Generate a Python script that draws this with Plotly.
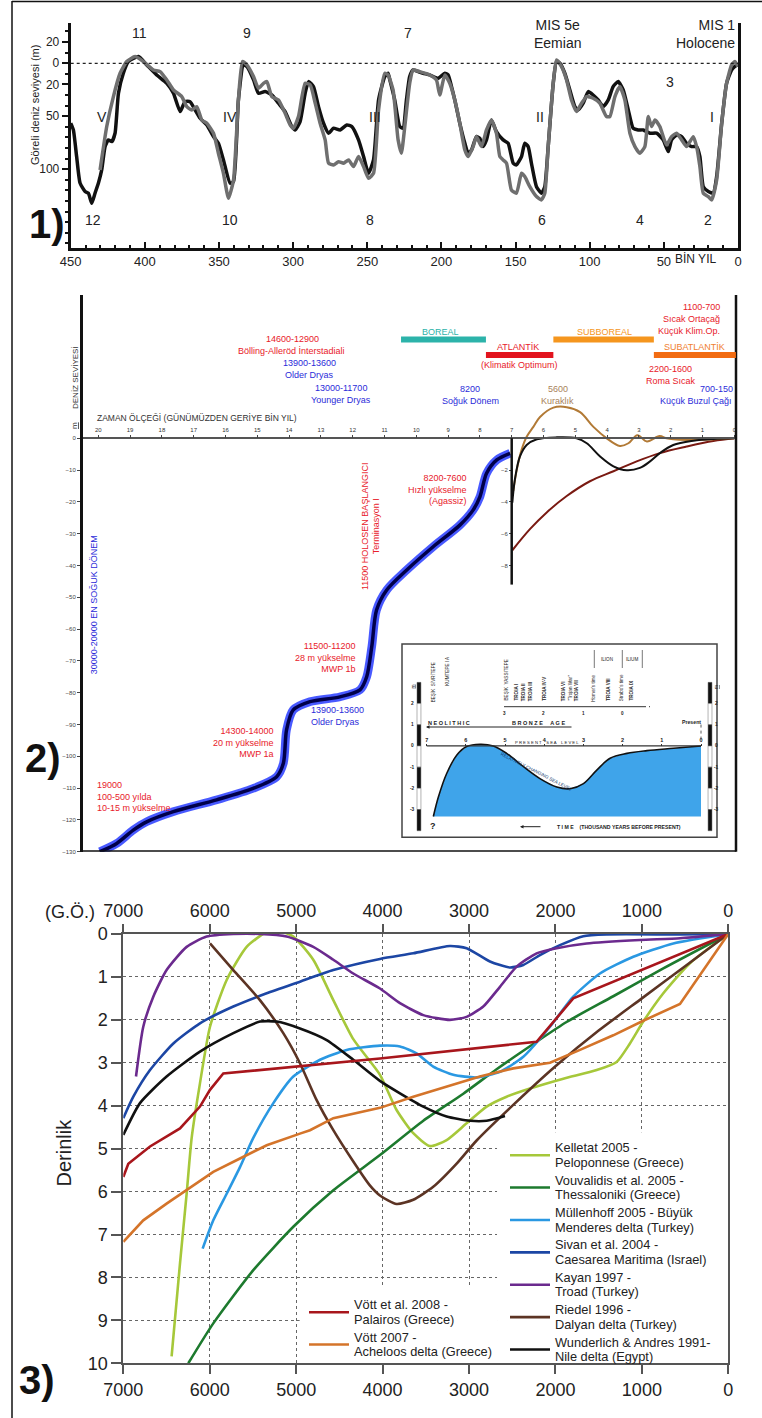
import plotly.graph_objects as go

FONT = "Liberation Sans, Arial"
W, H = 762, 1418
def fx(px): return px / W
def fy(py): return 1 - py / H

# ---------------- Panel 1 data (ka BP, relative sea level m) ----------------
p1_black_ka = [450, 448.2, 446, 443.7, 440.3, 438.1, 435.8, 433.6, 431.3, 429.1, 426.8, 424.6, 422.3, 420.1, 417.8,
               414.5, 411.1, 404.3, 398.7, 392, 385.2, 380.7, 376.2, 372.9, 369.5, 366.1, 362.7, 358.2, 353.7, 350.4,
               347, 342.5, 340.2, 336.9, 333.5, 331.2, 326.7, 323.4, 318.9, 314.4, 309.9, 305.4, 300.9, 298.6, 295.3,
               291.9, 289.6, 286.3, 282.9, 279.5, 276.1, 272.8, 268.3, 263.8, 260.4, 255.9, 252.5, 249.2, 245.8, 242.4,
               238.2, 236, 234.8, 231.5, 228.1, 225.9, 223.6, 221.4, 219.1, 215.7, 212.4, 207.9, 202.2, 197.7, 195.5,
               193.2, 191, 187.6, 184.2, 182, 179.7, 176.4, 174.1, 171.9, 169.6, 166.3, 162.9, 158.4, 155, 151.6,
               149.4, 146, 143.8, 141.5, 139.3, 135.9, 132.5, 130.3, 128, 124.6, 122.4, 120.1, 116.8, 113.4, 110,
               107.8, 104.4, 101, 97.7, 94.3, 90.9, 87.5, 84.2, 80.8, 77.4, 74, 70.7, 67.3, 63.9, 59.4, 54.9, 50.4,
               47, 44.8, 41.4, 38, 34.7, 31.3, 27.9, 25.7, 23.4, 20, 16.7, 14.4, 11, 7.7, 4.3, 0.9, 0]
p1_black_m = [-56.6, -62.9, -88, -113, -121, -122.6, -132, -122.6, -113, -100.6, -78.6, -72.3, -73.9, -66, -28.3,
              -9.4, 1.6, 6.3, -1.6, -11, -18.9, -28.3, -45.6, -36.2, -36.2, -44, -51.9, -58.2, -69.2, -75.5, -91.2,
              -113.2, -111.6, -34.6, -1.6, -3.1, -15.7, -28.3, -26.7, -29.9, -37.7, -45.6, -59.7, -62.9, -55, -28.3,
              -17.3, -22, -40.9, -56.6, -66, -61.3, -62.9, -58.2, -59.7, -72.3, -88, -103.8, -91.2, -34.6,
              -12.6, -9.4, -15.7, -34.6, -59.7, -61.3, -34.6, -12.6, -6.3, -7.9, -9.4, -11, -14.2, -9.4, -11, -22,
              -34.6, -56.6, -75.5, -84.9, -81.8, -69.2, -70.8, -78.6, -72.3, -53.5, -64.5, -72.3, -75.5, -94.3,
              -95.9, -88, -75.5, -78.6, -94.3, -116.4, -122.6, -116.4, -78.6, -18.9, 1.6, 0, -9.4, -25.2, -40.9,
              -44, -37.7, -26.7, -29.9, -34.6, -40.9, -34.6, -22, -17.3, -25.2, -44, -61.3, -62.9, -62.9, -66, -66,
              -72.3, -83.3, -72.3, -67.6, -69.2, -75.5, -78.6, -78.6, -88, -116.4, -121, -122.6, -106.9, -56.6,
              -18.9, -6.3, -1.6, -3.1]
p1_gray_ka = [430.2, 425.7, 421.2, 416.7, 412.2, 406.6, 401, 394.2, 389.7, 385.2, 380.7, 375.1, 371.7, 368.4, 365,
              361.6, 358.2, 353.7, 350.4, 347, 343.6, 340.2, 336.9, 334.2, 331.2, 326.7, 323.4, 320, 317.7, 314.4,
              309.9, 305.4, 302, 299.8, 296.4, 291.9, 288.5, 285.1, 281.8, 278.4, 276.1, 272.8, 269.4, 266, 262.6,
              259.3, 255.9, 252.5, 249.2, 245.8, 242.4,
              238.2, 236, 232.6, 229.2, 227, 224.7, 221.4, 219.1, 214.6, 207.9, 203.4, 201.1, 197.7, 194.4, 191,
              187.6, 184.2, 182, 178.6, 176.4, 173, 169.6, 166.3, 162.9, 160.6, 158.4, 156.1, 152.8, 149.4, 146,
              143.8, 140.4, 135.9, 132.5, 130.3, 128, 124.6, 122.4, 119, 115.6, 112.3, 108.9, 105.5, 102.1, 97.7,
              93.2, 88.7, 86.4, 83, 79.7, 76.3, 72.9, 69.5, 66.2, 62.8, 60.5, 58.3, 56, 52.7, 48.2, 44.8, 41.4, 38,
              34.7, 30.2, 27.9, 25.7, 23.4, 20, 17.8, 14.4, 11, 7.7, 4.3, 2.1, 0]
p1_gray_m = [-100.6, -59.7, -31.4, -9.4, 1.6, 6.3, 1.6, -6.3, -7.9, -15.7, -25.2, -31.4, -40.9, -44, -40.9, -53.5,
             -56.6, -66, -84.9, -103.8, -127.4, -110, -34.6, 1.6, -1.6, -12.6, -23.6, -18.9, -17.3, -31.4, -34.6,
             -47.2, -58.2, -61.3, -50.3, -18.9, -20.4, -37.7, -56.6, -72.3, -94.3, -95.9, -92.8, -94.3, -91.2,
             -97.5, -88, -97.5, -108.5, -103.8, -44,
             -9.4, -11, -25.2, -72.3, -84.9, -59.7, -18.9, -6.3, -7.9, -11, -15.7, -29.9, -11, -18.9, -34.6, -56.6,
             -81.8, -88, -78.6, -69.2, -78.6, -62.9, -53.5, -66, -88, -91.2, -94.3, -119.5, -122.6, -103.8, -106.9,
             -116.4, -125.8, -128.9, -122.6, -78.6, -18.9, 3.1, -3.1, -15.7, -34.6, -45.6, -37.7, -31.4, -33,
             -37.7, -50.3, -50.3, -31.4, -22, -34.6, -66, -78.6, -84.9, -78.6, -50.3, -59.7, -53.5, -59.7, -77,
             -69.2, -66, -72.3, -78.6, -69.2, -78.6, -97.5, -122.6, -125.8, -128.9, -110, -56.6, -18.9, -1.6, 1.6,
             -3.1]
p1_x_ticks = [450, 400, 350, 300, 250, 200, 150, 100, 50, 0]
p1_y_ticks = [20, 0, -20, -50, -100]
p1_y_ticktext = ["20", "0", "20", "50", "100"]

# ---------------- Panel 2 data (kyr BP, sea level m) ----------------
p2_blue_kyr = [19.95, 19.42, 18.9, 18.48, 17.64, 16.28, 15.13, 14.39, 14.18, 14.08, 13.87, 13.34, 12.4, 11.77,
               11.56, 11.4, 11.25, 10.93, 10.3, 9.47, 8.63, 8.21, 8.0, 7.79, 7.47, 7.05]
p2_blue_m = [-130, -127.4, -123.2, -120.6, -117.4, -113.7, -110.1, -106.4, -102.2, -91.7, -85.4, -82.8, -81.3,
             -79.1, -75, -65.5, -54, -47.7, -41.4, -34.1, -27.3, -22.5, -18.4, -11, -6.8, -4.7]
p2_black_kyr = [6.98, 6.9, 6.74, 6.53, 6.21, 5.58, 4.96, 4.64, 4.22, 3.8, 3.38, 2.97, 2.65, 2.34, 1.92, 1.29, 0.66, 0]
p2_black_m = [-4.04, -2.59, -1.14, -0.42, -0.06, 0.06, 0, -0.31, -1.14, -1.76, -2.01, -1.86, -1.45, -0.93, -0.42,
              -0.15, -0.04, 0]
p2_red_kyr = [6.98, 6.42, 5.9, 5.27, 4.54, 3.8, 3.07, 2.34, 1.5, 0.66, 0]
p2_red_m = [-7.04, -5.7, -4.66, -3.63, -2.7, -2.07, -1.45, -0.93, -0.52, -0.17, 0]
p2_brown_kyr = [6.95, 6.84, 6.69, 6.53, 6.32, 6.11, 5.69, 5.27, 4.85, 4.43, 4.01, 3.6, 3.33, 3.05, 2.75, 2.35, 2.13,
                1.92, 1.5, 0.66, 0]
p2_brown_m = [-3.3, -1.97, -0.73, 0.1, 0.72, 1.34, 1.93, 1.96, 1.65, 0.72, 0, -0.48, -0.31, 0.2, -0.2, 0.14, 0,
              -0.06, -0.1, -0.06, 0]
p2_x_ticks = list(range(0, 21))
p2_y_ticks = [0, -10, -20, -30, -40, -50, -60, -70, -80, -90, -100, -110, -120, -130]
p2_y3_ticks = [-2, -4, -6, -8]
period_names = ["BOREAL", "ATLANTİK", "SUBBOREAL", "SUBATLANTİK"]
period_start = [10.48, 7.81, 5.69, 2.53]
period_end = [7.81, 5.69, 2.53, -0.05]
period_level = [31.1, 26.2, 31.1, 26.2]
period_colors = ["#2cb3aa", "#e2141e", "#f5961e", "#f26c12"]

# inset (Troia) data
troia_kyr = [6.83, 6.7, 6.49, 6.23, 5.98, 5.64, 5.3, 4.96, 4.53, 4.11, 3.68, 3.34, 3.0, 2.66, 2.32, 1.89, 1.38, 0.7, 0]
troia_m = [-3.33, -2.4, -1.3, -0.43, -0.03, 0.08, 0, -0.35, -0.98, -1.54, -1.94, -2.02, -1.78, -1.14, -0.58, -0.35,
           -0.22, -0.11, 0]
inset_x_ticks = [7, 6, 5, 4, 3, 2, 1, 0]
inset_y_ticks = [2, 1, 0, -1, -2, -3]

# ---------------- Panel 3 data (years BP, depth m) ----------------
vott08_yr = [7000, 6942, 6691, 6344, 6113, 5997, 5843, 4030, 2218, 1794, 0]
vott08_d = [5.66, 5.35, 4.95, 4.53, 4.02, 3.63, 3.25, 2.9, 2.51, 1.5, 0]
vott07_yr = [7000, 6769, 6499, 6267, 5959, 5650, 5341, 4956, 4840, 4570, 4030, 3645, 3259, 2874, 2488, 2063, 1716,
             1331, 984, 559, 0]
vott07_d = [7.17, 6.67, 6.28, 5.97, 5.54, 5.23, 4.92, 4.65, 4.57, 4.29, 4.05, 3.79, 3.56, 3.32, 3.13, 3.0, 2.7,
            2.36, 2.02, 1.63, 0]
kell_yr = [6441, 6344, 6267, 6209, 6113, 5997, 5804, 5573, 5341, 5226, 5033, 4802, 4570, 4339, 4030, 3838, 3645,
           3452, 3259, 3028, 2796, 2565, 2295, 1909, 1523, 1292, 1138, 984, 752, 444, 0]
kell_d = [9.84, 7.67, 6.05, 4.75, 3.48, 2.16, 1.07, 0.3, -0.05, -0.09, 0.06, 0.6, 1.54, 2.45, 3.28, 4.1, 4.64, 4.94,
          4.8, 4.41, 4.02, 3.79, 3.6, 3.37, 3.17, 2.98, 2.55, 2.04, 1.38, 0.68, 0]
vouv_yr = [6248, 5959, 5496, 5033, 4570, 4030, 3529, 3066, 2681, 2218, 1871, 1331, 752, 0]
vouv_d = [10, 9.07, 7.83, 6.82, 5.97, 5.15, 4.35, 3.72, 3.15, 2.51, 2.05, 1.45, 0.8, 0]
mull_yr = [6082, 5959, 5804, 5650, 5496, 5264, 5033, 4724, 4416, 4030, 3799, 3607, 3414, 3182, 2912, 2642, 2372,
           2063, 1794, 1485, 1099, 636, 0]
mull_d = [7.33, 6.67, 6.05, 5.43, 4.75, 3.94, 3.32, 2.93, 2.7, 2.6, 2.62, 2.78, 3.09, 3.28, 3.34, 3.21, 2.86, 2.16,
          1.46, 0.92, 0.53, 0.22, 0]
sivan_yr = [7000, 6884, 6691, 6421, 6113, 5727, 5341, 4956, 4570, 4030, 3645, 3221, 3028, 2758, 2526, 2372, 2179,
            1948, 1678, 1408, 559, 0]
sivan_d = [4.29, 3.79, 3.17, 2.55, 2.08, 1.69, 1.38, 1.11, 0.84, 0.58, 0.45, 0.28, 0.33, 0.64, 0.78, 0.72, 0.49,
           0.26, 0.05, 0.01, 0.01, 0]
kayan_yr = [6853, 6769, 6653, 6499, 6267, 6036, 5727, 5419, 5110, 4802, 4570, 4339, 4030, 3799, 3529, 3221, 3028,
            2835, 2642, 2449, 2218, 1986, 1639, 1022, 559, 0]
kayan_d = [3.32, 2.16, 1.46, 0.84, 0.3, 0.06, 0.0, 0.0, 0.06, 0.3, 0.6, 0.92, 1.27, 1.61, 1.89, 2.0, 1.93, 1.69,
           1.23, 0.76, 0.45, 0.33, 0.22, 0.14, 0.1, 0]
riedel_yr = [5997, 5727, 5419, 5149, 4956, 4763, 4570, 4339, 4150, 4031, 3838, 3645, 3414, 3143, 2912, 2488, 2000,
             1500, 1000, 500, 0]
riedel_d = [0.22, 0.84, 1.54, 2.31, 3.01, 3.87, 4.57, 5.3, 5.85, 6.09, 6.29, 6.19, 5.89, 5.35, 4.81, 3.98, 3.08,
            2.25, 1.5, 0.75, 0]
wund_yr = [7000, 6807, 6499, 6113, 5727, 5419, 5226, 4956, 4647, 4339, 4031, 3799, 3529, 3259, 2989, 2796, 2584]
wund_d = [4.68, 3.94, 3.32, 2.74, 2.31, 2.04, 2.04, 2.2, 2.47, 2.93, 3.42, 3.71, 4.02, 4.25, 4.35, 4.35, 4.24]
p3_x_ticks = [7000, 6000, 5000, 4000, 3000, 2000, 1000, 0]
p3_y_ticks = list(range(0, 11))

fig = go.Figure()

# ---- Panel 1 traces ----
fig.add_trace(go.Scatter(x=p1_black_ka, y=p1_black_m, mode="lines", xaxis="x", yaxis="y",
                         line=dict(color="#111111", width=3.5, shape="spline", smoothing=0.5),
                         showlegend=False, hoverinfo="skip"))
fig.add_trace(go.Scatter(x=p1_gray_ka, y=p1_gray_m, mode="lines", xaxis="x", yaxis="y",
                         line=dict(color="#6f6f6f", width=3.5, shape="spline", smoothing=0.5),
                         showlegend=False, hoverinfo="skip"))

# ---- Panel 2 traces ----
fig.add_trace(go.Scatter(x=p2_blue_kyr, y=p2_blue_m, mode="lines", xaxis="x2", yaxis="y2",
                         line=dict(color="rgba(40,60,255,0.85)", width=8.5, shape="spline", smoothing=0.8),
                         showlegend=False, hoverinfo="skip"))
fig.add_trace(go.Scatter(x=p2_blue_kyr, y=p2_blue_m, mode="lines", xaxis="x2", yaxis="y2",
                         line=dict(color="#00004a", width=3.5, shape="spline", smoothing=0.8),
                         showlegend=False, hoverinfo="skip"))
fig.add_trace(go.Scatter(x=p2_red_kyr, y=p2_red_m, mode="lines", xaxis="x2", yaxis="y3",
                         line=dict(color="#7a1a12", width=2, shape="spline"), showlegend=False, hoverinfo="skip"))
fig.add_trace(go.Scatter(x=p2_brown_kyr, y=p2_brown_m, mode="lines", xaxis="x2", yaxis="y3",
                         line=dict(color="#b27a36", width=2, shape="spline"), showlegend=False, hoverinfo="skip"))
fig.add_trace(go.Scatter(x=p2_black_kyr, y=p2_black_m, mode="lines", xaxis="x2", yaxis="y3",
                         line=dict(color="#111111", width=2, shape="spline"), showlegend=False, hoverinfo="skip"))

# inset fill + curve
fig.add_trace(go.Scatter(x=troia_kyr + [0, troia_kyr[0]], y=troia_m + [troia_m[0], troia_m[0]], mode="lines",
                         xaxis="x5", yaxis="y5", fill="toself", fillcolor="#3fa4ea", line=dict(width=0),
                         showlegend=False, hoverinfo="skip"))
fig.add_trace(go.Scatter(x=troia_kyr, y=troia_m, mode="lines", xaxis="x5", yaxis="y5",
                         line=dict(color="#111111", width=1.6, shape="spline"), showlegend=False, hoverinfo="skip"))

# ---- Panel 3 traces ----
def lg_name(l1, l2):
    sp = '<span style="font-size:12.8px">%s</span>'
    return (sp % l1) + "<br>" + (sp % l2)

p3_series = [
    (lg_name("Kelletat 2005 -", "Peloponnese (Greece)"), kell_yr, kell_d, "#a6c83a", "legend", "spline"),
    (lg_name("Vouvalidis et al. 2005 -", "Thessaloniki (Greece)"), vouv_yr, vouv_d, "#1d7a2e", "legend", "spline"),
    (lg_name("Müllenhoff 2005 - Büyük", "Menderes delta (Turkey)"), mull_yr, mull_d, "#2a98e2", "legend", "spline"),
    (lg_name("Sivan et al. 2004 -", "Caesarea Maritima (Israel)"), sivan_yr, sivan_d, "#1c46a4", "legend", "spline"),
    (lg_name("Kayan 1997 -", "Troad (Turkey)"), kayan_yr, kayan_d, "#6b2a8e", "legend", "spline"),
    (lg_name("Riedel 1996 -", "Dalyan delta (Turkey)"), riedel_yr, riedel_d, "#5c3424", "legend", "spline"),
    (lg_name("Wunderlich & Andres 1991-", "Nile delta (Egypt)"), wund_yr, wund_d, "#111111", "legend", "spline"),
    (lg_name("Vött et al. 2008 -", "Palairos (Greece)"), vott08_yr, vott08_d, "#a8161c", "legend2", "linear"),
    (lg_name("Vött 2007 -", "Acheloos delta (Greece)"), vott07_yr, vott07_d, "#d4742a", "legend2", "linear"),
]
for name, xs, ys, col, lg, shp in p3_series:
    fig.add_trace(go.Scatter(x=xs, y=ys, mode="lines", name=name, xaxis="x4", yaxis="y4", legend=lg,
                             line=dict(color=col, width=2.6, shape=shp, smoothing=0.6), hoverinfo="skip"))
fig.add_trace(go.Scatter(x=[7000, 0], y=[None, None], xaxis="x6", yaxis="y4", mode="lines",
                         showlegend=False, hoverinfo="skip"))

# ---------------- annotations ----------------
ann = []
def txt(px, py, s, size=9, color="#222", xa="center", ya="middle", angle=0, align="center"):
    ann.append(dict(x=fx(px), y=fy(py), xref="paper", yref="paper", text=s, showarrow=False,
                    font=dict(size=size, color=color, family=FONT), xanchor=xa, yanchor=ya,
                    textangle=angle, align=align, borderpad=0))

# Panel 1 labels
for s, px, py in [("11", 139.3, 33), ("9", 246.7, 33), ("7", 408.3, 33), ("3", 670, 81.7),
                  ("V", 101.7, 116.7), ("IV", 230, 116.7), ("III", 375, 116.7), ("II", 540, 116.7),
                  ("I", 711.7, 116.7), ("12", 93.3, 220), ("10", 230, 220), ("8", 370, 220),
                  ("6", 541.7, 220), ("4", 640, 220), ("2", 708.3, 220)]:
    txt(px, py, s, size=14, color="#222")
txt(557, 33.5, "MIS 5e<br>Eemian", size=14, color="#222")
txt(736, 33.5, "MIS 1<br>Holocene", size=14, color="#222", xa="right", align="right")
txt(695, 258.5, "BİN YIL", size=12, color="#222")
txt(35, 105, "Göreli deniz seviyesi (m)", size=11, color="#222", angle=-90)
txt(47, 224, "<b>1)</b>", size=40, color="#111")

# Panel 2 labels
RED, BLUE, TEAL, ORG, BRN = "#e8202a", "#2b2bd9", "#2cb3aa", "#f5961e", "#a8825a"
txt(292.5, 339, "14600-12900", 9, RED)
txt(291.7, 351, "Bölling-Alleröd İnterstadiali", 9, RED)
txt(309.5, 362.7, "13900-13600", 9, BLUE)
txt(309.5, 374.7, "Older Dryas", 9, BLUE)
txt(340.8, 387.7, "13000-11700", 9, BLUE)
txt(340.8, 399.5, "Younger Dryas", 9, BLUE)
txt(440.8, 331.7, "BOREAL", 9, TEAL)
txt(517.5, 346.7, "ATLANTİK", 9, RED)
txt(519.7, 365, "(Klimatik Optimum)", 9, RED)
txt(604, 331.7, "SUBBOREAL", 9, ORG)
txt(694.7, 347.3, "SUBATLANTİK", 9, "#f08030")
txt(701.7, 306.7, "1100-700", 9, RED)
txt(691.7, 319, "Sıcak Ortaçağ", 9, RED)
txt(688.8, 331, "Küçük Klim.Op.", 9, RED)
txt(670.8, 369.3, "2200-1600", 9, RED)
txt(671, 380.7, "Roma Sıcak", 9, RED)
txt(716.7, 389, "700-150", 9, BLUE)
txt(696, 400.7, "Küçük Buzul Çağı", 9, BLUE)
txt(469.7, 389, "8200", 9, BLUE)
txt(470, 400.7, "Soğuk Dönem", 9, BLUE)
txt(557.5, 389, "5600", 9, BRN)
txt(557.5, 400.7, "Kuraklık", 9, BRN)
txt(96, 418, "ZAMAN ÖLÇEĞİ (GÜNÜMÜZDEN GERİYE BİN YIL)", 8.5, "#333", xa="left")
txt(75, 378, "DENİZ SEVİYESİ", 8, "#333", angle=-90)
txt(75, 426, "<u>m</u>", 8, "#333", angle=-90)
txt(94.3, 605, "30000-20000 EN SOĞUK DÖNEM", 9, BLUE, angle=-90)
txt(364.3, 526.7, "11500 HOLOSEN BAŞLANGICI", 9, RED, angle=-90)
txt(375.5, 526.7, "Terminasyon I", 9, RED, angle=-90)
txt(468.3, 489, "8200-7600<br>Hızlı yükselme<br>(Agassiz)", 9, RED, xa="right", align="right")
txt(357.3, 657, "11500-11200<br>28 m yükselme<br>MWP 1b", 9, RED, xa="right", align="right")
txt(310, 716, "13900-13600<br>Older Dryas", 9, BLUE, xa="left", align="left")
txt(275, 742, "14300-14000<br>20 m yükselme<br>MWP 1a", 9, RED, xa="right", align="right")
txt(96, 796, "19000<br>100-500 yılda<br>10-15 m yükselme", 9, RED, xa="left", align="left")
txt(42.7, 758, "<b>2)</b>", 40, "#111")

# inset texts
IC = "#222"
txt(427, 723.3, "<b>N E O L I T H I C</b>", 5.5, IC, xa="left")
txt(538, 723.3, "<b>B R O N Z E &nbsp;&nbsp;&nbsp; A G E</b>", 5.5, IC)
txt(547, 742.5, "P R E S E N T &nbsp;&nbsp; S E A &nbsp;&nbsp; L E V E L", 4.2, IC)
txt(536, 771, "RELATIVELY CHANGING SEA LEVEL", 4.6, "#123a70", angle=27)
txt(691.7, 721.7, "<b>Present</b>", 5.2, IC)
txt(432.7, 826, "<b>?</b>", 9, IC)
txt(556, 826.7, "<b>T I M E &nbsp;&nbsp; (THOUSAND YEARS BEFORE PRESENT)</b>", 5.2, IC, xa="left")
for s, px, pb in [("BEŞİK &nbsp;SİVRİTEPE", 433.3, 703), ("KUMTEPE I A", 446.7, 687),
                  ("BEŞİK &nbsp;YASSITEPE", 505, 702), ("<b>TROIA I</b>", 516, 702),
                  ("<b>TROIA II</b>", 523.3, 702), ("<b>TROIA III</b>", 530.7, 702),
                  ("<b>TROIA IV-V</b>", 544.3, 702), ("<b>TROIA VI</b>", 563.3, 702),
                  ("\"Trojan War\"", 570, 702), ("<b>TROIA VII</b>", 576.7, 702),
                  ("Homer's time", 593.3, 703), ("<b>TROIA VIII</b>", 607.7, 702),
                  ("Strabo's time", 621.7, 702), ("<b>TROIA IX</b>", 631, 702)]:
    txt(px, pb, s, 4.6, IC, ya="bottom", angle=-90)
txt(607.3, 659.3, "ILION", 4.6, IC)
txt(632.3, 659.3, "ILIUM", 4.6, IC)
for s, px in [("3", 504), ("2", 543), ("1", 583.3), ("0", 622.7)]:
    txt(px, 713.5, "<b>" + s + "</b>", 4.6, IC)
for v in inset_y_ticks:
    ann.append(dict(x=fx(412.5), y=v, xref="paper", yref="y5", text="<b>%d</b>" % v, showarrow=False,
                    font=dict(size=4.8, color=IC, family=FONT), xanchor="center", yanchor="middle"))
    ann.append(dict(x=fx(716), y=v, xref="paper", yref="y5", text="<b>%d</b>" % v, showarrow=False,
                    font=dict(size=4.8, color=IC, family=FONT), xanchor="center", yanchor="middle"))
txt(412.5, 687, "<u>m</u>", 4.8, IC, angle=-90)
txt(716, 687, "<u>m</u>", 4.8, IC, angle=-90)
ann.append(dict(x=fx(426), y=fy(727), xref="paper", yref="paper", ax=147, ay=0, text="", showarrow=True,
                arrowhead=2, arrowsize=0.7, arrowwidth=1, arrowcolor="#222"))
ann.append(dict(x=fx(520), y=fy(826.7), xref="paper", yref="paper", ax=22, ay=0, text="", showarrow=True,
                arrowhead=2, arrowsize=0.7, arrowwidth=1, arrowcolor="#222"))

# Panel 3 labels
txt(70, 911.7, "(G.Ö.)", 18, "#222")
txt(63.5, 1153, "Derinlik", 20, "#222", angle=-90)
txt(37, 1380, "<b>3)</b>", 40, "#111")

# ---------------- shapes ----------------
shapes = []
shapes.append(dict(type="line", xref="paper", yref="paper", x0=fx(12), x1=fx(12), y0=fy(1), y1=fy(1418),
                   line=dict(color="#111", width=1.5)))
shapes.append(dict(type="line", xref="paper", yref="paper", x0=fx(12), x1=1, y0=fy(1.5), y1=fy(1.5),
                   line=dict(color="#111", width=1.5)))
shapes.append(dict(type="line", xref="x", yref="y", x0=450, x1=0, y0=0, y1=0,
                   line=dict(color="#222", width=1.3, dash="dot")))
shapes.append(dict(type="line", xref="x2 domain", yref="y2", x0=0, x1=1, y0=-130, y1=-130,
                   line=dict(color="#111", width=3)))
shapes.append(dict(type="line", xref="x2 domain", yref="y2 domain", x0=1, x1=1, y0=0, y1=1,
                   line=dict(color="#111", width=2.5)))
shapes.append(dict(type="line", xref="x2", yref="y3", x0=7, x1=7, y0=0, y1=-9.2,
                   line=dict(color="#111", width=2.5)))
for nm, s0, s1, lv, col in zip(period_names, period_start, period_end, period_level, period_colors):
    shapes.append(dict(type="line", xref="x2", yref="y2", x0=s0, x1=s1, y0=lv, y1=lv,
                       line=dict(color=col, width=6)))
shapes.append(dict(type="rect", xref="x5 domain", yref="y5 domain", x0=0, x1=1, y0=0, y1=1,
                   line=dict(color="#444", width=1.5), layer="below"))
shapes.append(dict(type="line", xref="x5", yref="y5", x0=7, x1=0, y0=0, y1=0,
                   line=dict(color="#333", width=1.2)))
shapes.append(dict(type="line", xref="x5", yref="y5", x0=0, x1=0, y0=0.3, y1=1.15,
                   line=dict(color="#333", width=0.8, dash="dot")))
shapes.append(dict(type="line", xref="paper", yref="paper", x0=fx(504), x1=fx(643), y0=fy(706.7), y1=fy(706.7),
                   line=dict(color="#333", width=1)))
shapes.append(dict(type="line", xref="paper", yref="paper", x0=fx(643), x1=fx(650), y0=fy(706.7), y1=fy(706.7),
                   line=dict(color="#333", width=1, dash="dot")))
for sx in [594.3, 622.3, 642.3]:
    shapes.append(dict(type="line", xref="paper", yref="paper", x0=fx(sx), x1=fx(sx), y0=fy(650), y1=fy(668),
                       line=dict(color="#555", width=0.8)))
for bx in [7.197, -0.23]:
    for i, top in enumerate([3, 2, 1, 0, -1, -2, -3]):
        shapes.append(dict(type="rect", xref="x5", yref="y5", x0=bx - 0.05, x1=bx + 0.05, y0=top, y1=top - 1,
                           fillcolor="#111" if i % 2 == 0 else "#ffffff", line=dict(color="#666", width=0.5)))
shapes.append(dict(type="rect", xref="x4", yref="y4", x0=2676, x1=0, y0=4.62, y1=10, fillcolor="white",
                   line=dict(width=0), layer="between"))
shapes.append(dict(type="rect", xref="x4", yref="y4", x0=4960, x1=2676, y0=8.22, y1=10, fillcolor="white",
                   line=dict(width=0), layer="between"))

AX = dict(showgrid=False, zeroline=False, automargin=False)
fig.update_layout(
    width=W, height=H, margin=dict(l=0, r=0, t=0, b=0, autoexpand=False), paper_bgcolor="white",
    plot_bgcolor="rgba(0,0,0,0)", font=dict(family=FONT, color="#222"),
    xaxis=dict(domain=[fx(70.7), fx(738)], range=[450, 0], anchor="y", tickvals=p1_x_ticks,
               ticks="inside", ticklen=6, tickwidth=2, tickcolor="#111", showline=True, linecolor="#111",
               linewidth=3, tickfont=dict(size=13, color="#222"),
               minor=dict(dtick=10, ticklen=3, tickwidth=1.5, ticks="inside", tickcolor="#111"), **AX),
    yaxis=dict(domain=[fy(247.7), fy(23)], range=[-174, 38], anchor="x", tickvals=p1_y_ticks,
               ticktext=p1_y_ticktext, ticks="outside", ticklen=6, tickwidth=2, tickcolor="#111",
               showline=True, linecolor="#111", linewidth=3, mirror=True, tickfont=dict(size=12, color="#222"),
               minor=dict(dtick=10, tick0=0, ticklen=3, tickwidth=1.5, ticks="outside", tickcolor="#111"), **AX),
    xaxis2=dict(domain=[fx(82.7), fx(736)], range=[20.49, -0.053], anchor="free", position=fy(438.3),
                side="top", tickvals=p2_x_ticks, ticks="outside", ticklen=3, tickwidth=1, tickcolor="#444",
                tickfont=dict(size=6, color="#333"), showline=True, linecolor="#555", linewidth=1.5, **AX),
    yaxis2=dict(domain=[fy(851.7), fy(295)], range=[-130, 45.07], anchor="x2", tickvals=p2_y_ticks,
                ticks="outside", ticklen=3, tickwidth=1, tickcolor="#444", tickfont=dict(size=6, color="#444"),
                showline=True, linecolor="#111", linewidth=2.5, **AX),
    yaxis3=dict(overlaying="y2", anchor="free", position=fx(512), side="left", range=[-26, 9.014],
                tickvals=p2_y3_ticks, ticks="outside", ticklen=3, tickwidth=1, tickcolor="#444",
                tickfont=dict(size=6, color="#444"), showline=False, **AX),
    xaxis5=dict(domain=[fx(402), fx(717)], range=[7.63, -0.408], anchor="free", position=fy(746), side="top",
                tickvals=inset_x_ticks, ticktext=["<b>%d</b>" % v for v in inset_x_ticks], ticks="outside",
                ticklen=2, tickwidth=1, tickcolor="#333", tickfont=dict(size=5.5, color="#222"),
                showline=False, **AX),
    yaxis5=dict(domain=[fy(837.3), fy(644)], range=[-4.31, 4.81], anchor="x5", visible=False, **AX),
    xaxis4=dict(domain=[fx(123.3), fx(728.3)], range=[7000, 0], anchor="y4", side="bottom", tickvals=p3_x_ticks,
                ticks="outside", ticklen=9, tickwidth=1.5, tickcolor="#555", tickfont=dict(size=18, color="#222"),
                showline=True, linecolor="#555", linewidth=2, mirror=True, showgrid=True, gridcolor="#666",
                griddash="dot", gridwidth=1, zeroline=False, automargin=False),
    xaxis6=dict(domain=[fx(123.3), fx(728.3)], range=[7000, 0], overlaying="x4", anchor="y4", side="top",
                tickvals=p3_x_ticks, ticks="outside", ticklen=9, tickwidth=1.5, tickcolor="#555",
                tickfont=dict(size=18, color="#222"), showline=False, **AX),
    yaxis4=dict(domain=[fy(1363.3), fy(934)], range=[10, 0], anchor="x4", tickvals=p3_y_ticks, ticks="outside",
                ticklen=10, tickwidth=1.5, tickcolor="#555", tickfont=dict(size=18, color="#222"), showline=True,
                linecolor="#555", linewidth=2, mirror=True, showgrid=True, gridcolor="#666", griddash="dot",
                gridwidth=1, zeroline=False, automargin=False),
    legend=dict(x=fx(505), y=fy(1134), xanchor="left", yanchor="top", bgcolor="rgba(255,255,255,0)",
                font=dict(size=11.3, family=FONT, color="#222"), itemwidth=40, tracegroupgap=0, borderwidth=0),
    legend2=dict(x=fx(304), y=fy(1291), xanchor="left", yanchor="top", bgcolor="rgba(255,255,255,0)",
                 font=dict(size=11.3, family=FONT, color="#222"), itemwidth=40, tracegroupgap=0, borderwidth=0),
    annotations=ann, shapes=shapes,
)

fig.write_html("out.html")
